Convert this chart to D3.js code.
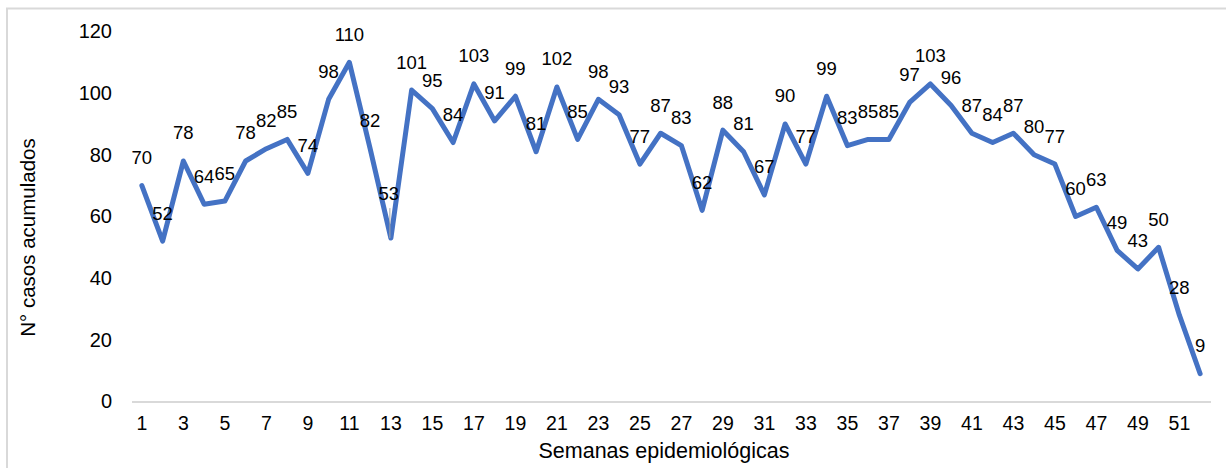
<!DOCTYPE html>
<html><head><meta charset="utf-8">
<script src="https://cdn.jsdelivr.net/npm/d3@7"></script>
<style>
html,body{margin:0;padding:0;background:#fff;}
svg{display:block;font-family:"Liberation Sans",Arial,sans-serif;}
</style></head>
<body>
<svg id="chart" width="1226" height="468"></svg>
<script>
const weeks = d3.range(1, 53);
const cases = [70,52,78,64,65,78,82,85,74,98,110,82,53,101,95,84,103,91,99,81,102,85,98,93,77,87,83,62,88,81,67,90,77,99,83,85,85,97,103,96,87,84,87,80,77,60,63,49,43,50,28,9];
const yTicks = [0,20,40,60,80,100,120];
const xTickLabels = weeks.filter(w => w % 2 === 1);
const xTitle = "Semanas epidemiológicas";
const yTitle = "N° casos acumulados";

const svg = d3.select("#chart");
const plotLeft = 131.5, plotRight = 1210.5, plotTop = 31.5, plotBottom = 401.5;

// outer chart border
svg.append("rect").attr("x", 7).attr("y", 8.5).attr("width", 1300).attr("height", 600)
  .attr("fill", "#fff").attr("stroke", "#D9D9D9").attr("stroke-width", 2);

const x = d3.scaleBand().domain(weeks).range([plotLeft, plotRight]);
const y = d3.scaleLinear().domain([0, 120]).range([plotBottom, plotTop]);
const cx = w => x(w) + x.bandwidth() / 2;

// y axis labels
const yAxis = d3.axisLeft(y).tickValues(yTicks).tickSize(0).tickPadding(0);
const gy = svg.append("g").attr("transform", "translate(112,0)").call(yAxis);
gy.select(".domain").remove();
gy.selectAll("text").attr("font-size", 20).attr("fill", "#000").attr("font-family", "Liberation Sans, Arial, sans-serif");

// x axis
const xAxis = d3.axisBottom(x).tickValues(xTickLabels).tickSize(0).tickPadding(0);
const gx = svg.append("g").attr("transform", `translate(0,${plotBottom})`).call(xAxis);
gx.select(".domain").attr("stroke", "#D9D9D9").attr("stroke-width", 2);
gx.selectAll("text").attr("font-size", 19.5).attr("fill", "#000")
  .attr("font-family", "Liberation Sans, Arial, sans-serif")
  .attr("y", 22).attr("dy", "0.35em");

// line
const line = d3.line().x((d, i) => cx(weeks[i])).y(d => y(d));
svg.append("path").datum(cases).attr("d", line)
  .attr("fill", "none").attr("stroke", "#4472C4").attr("stroke-width", 5)
  .attr("stroke-linejoin", "round").attr("stroke-linecap", "round");

// leader line for week 13
svg.append("line").attr("x1", cx(13) - 1).attr("x2", cx(13) - 1)
  .attr("y1", y(53) - 30).attr("y2", y(53))
  .attr("stroke", "#A6A6A6").attr("stroke-width", 1);

// data labels
svg.append("g").selectAll("text").data(cases).join("text")
  .attr("x", (d, i) => cx(weeks[i]) - (weeks[i] === 13 ? 2 : 0))
  .attr("y", (d, i) => y(d) - (weeks[i] === 13 ? 45 : 28))
  .attr("dy", "0.35em").attr("text-anchor", "middle")
  .attr("font-size", 18.5).attr("fill", "#000")
  .text(d => d);

// axis titles
svg.append("text").attr("x", 664).attr("y", 458).attr("text-anchor", "middle")
  .attr("font-size", 21.5).attr("fill", "#000").text(xTitle);
svg.append("text").attr("transform", "translate(28,237.5) rotate(-90)")
  .attr("text-anchor", "middle").attr("dy", "0.35em")
  .attr("font-size", 20.5).attr("fill", "#000").text(yTitle);
</script>
</body></html>
